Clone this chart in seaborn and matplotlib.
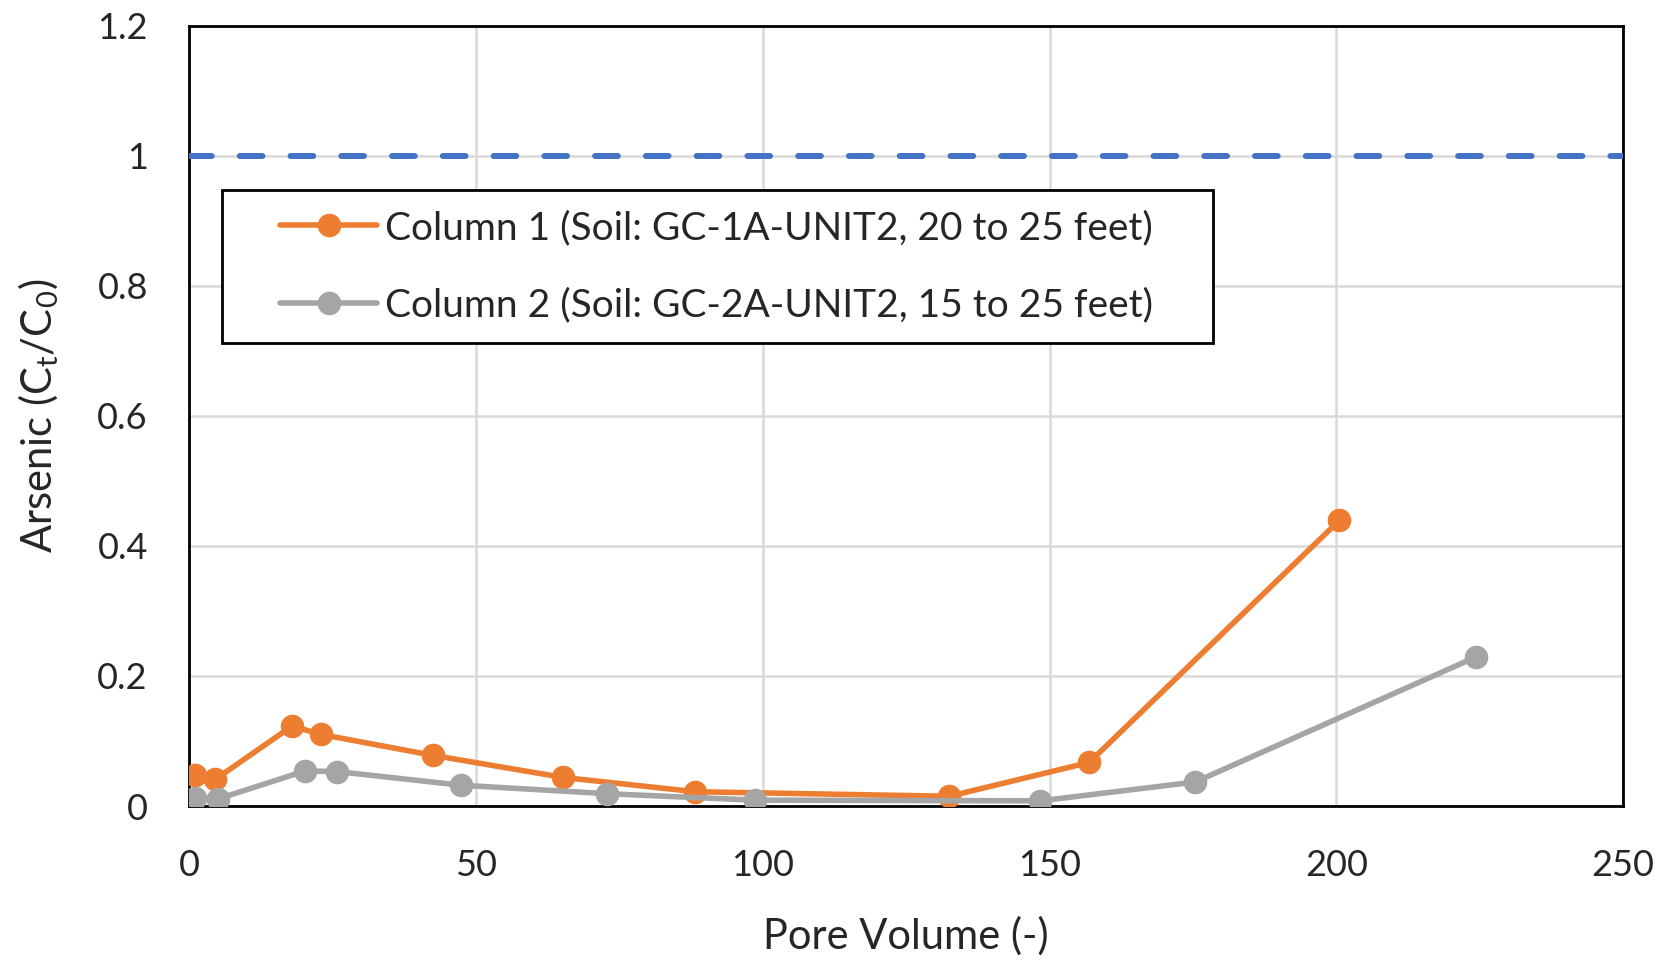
import matplotlib
matplotlib.use("Agg")
import matplotlib.pyplot as plt
from matplotlib.patches import Rectangle
import seaborn as sns
import pandas as pd

# Breakthrough data: pore volumes and normalized arsenic concentrations
col1_pv = [0.9, 4.5, 17.9, 23.0, 42.4, 65.1, 88.2, 132.5, 156.9, 200.5]
col1_c = [0.048, 0.041, 0.123, 0.110, 0.078, 0.044, 0.022, 0.015, 0.067, 0.439]
col2_pv = [1.0, 5.0, 20.2, 25.7, 47.4, 72.8, 98.6, 148.4, 175.4, 224.3]
col2_c = [0.013, 0.011, 0.054, 0.053, 0.032, 0.019, 0.009, 0.008, 0.037, 0.229]

series_names = ["Column 1 (Soil: GC-1A-UNIT2, 20 to 25 feet)",
                "Column 2 (Soil: GC-2A-UNIT2, 15 to 25 feet)"]
series_colors = ["#ED7D31", "#A5A5A5"]
influent_level = 1.0

x_ticks = [0, 50, 100, 150, 200, 250]
y_ticks = [0, 0.2, 0.4, 0.6, 0.8, 1.0, 1.2]
y_tick_labels = ["0", "0.2", "0.4", "0.6", "0.8", "1", "1.2"]

df = pd.DataFrame({
    "pv": col1_pv + col2_pv,
    "c": col1_c + col2_c,
    "series": [series_names[0]] * len(col1_pv) + [series_names[1]] * len(col2_pv),
})

sns.set_theme(style="white")
plt.rcParams["font.family"] = ["Lato", "DejaVu Sans"]

fig = plt.figure(figsize=(16.69, 9.63), dpi=100)
ax = fig.add_axes([0.1135, 0.163, 0.859, 0.8105])

# influent reference level (C/C0 = 1)
ax.axhline(influent_level, color="#4472C4", lw=4.3, ls=(0, (3.8, 4.7)),
           dash_capstyle="round", zorder=3)

sns.lineplot(data=df, x="pv", y="c", hue="series", palette=series_colors,
             sort=False, marker="o", markersize=17, markeredgewidth=0,
             linewidth=4.0, ax=ax, zorder=4)

ax.set_xlim(0, 250)
ax.set_ylim(0, 1.2)
ax.set_xticks(x_ticks)
ax.set_yticks(y_ticks)
ax.set_yticklabels(y_tick_labels)
ax.grid(True, color="#D9D9D9", lw=1.8)
ax.set_axisbelow(True)
for s in ax.spines.values():
    s.set_color("black")
    s.set_linewidth(2)
ax.tick_params(axis="both", direction="in", length=8, width=2, color="black",
               labelsize=26)
ax.tick_params(axis="x", pad=31)
ax.tick_params(axis="y", pad=30)

ax.set_xlabel("Pore Volume (-)", fontsize=30, labelpad=25)
ax.set_ylabel(r"Arsenic (C$_\mathregular{t}$/C$_\mathregular{0}$)", fontsize=30, labelpad=26)

# legend entries without their own frame; a plain box is drawn behind them
leg = ax.legend(loc="center left", bbox_to_anchor=(0.0631, 0.691), fontsize=28,
                frameon=False, handlelength=2.5, handletextpad=0.19,
                labelspacing=1.07, borderpad=0, borderaxespad=0, title=None)
for h in leg.legend_handles:
    h.set_linewidth(4.0)
    h.set_markersize(17)
leg.set_zorder(6)
ax.add_patch(Rectangle((0.023, 0.5932), 0.6912, 0.1958, transform=ax.transAxes,
                       facecolor="white", edgecolor="black", lw=2, zorder=5))

fig.savefig("out.png", dpi=100)
